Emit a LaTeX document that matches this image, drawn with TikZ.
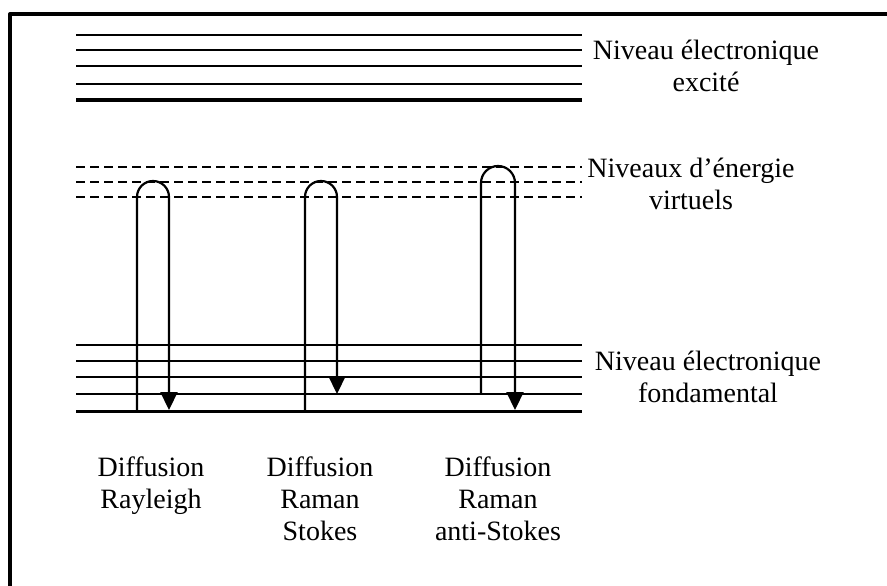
\documentclass[tikz,border=0pt]{standalone}
\usepackage{fontspec}
\setmainfont{Liberation Serif}
\usetikzlibrary{arrows.meta}

\begin{document}
\begin{tikzpicture}[x=1pt, y=-1pt, line join=round, >={Triangle[width=17pt,length=18pt]},
				font=\fontsize{28}{32}\selectfont,
				declare function={xl=76; xr=582; r=16;}]
				\useasboundingbox (0,0) rectangle (887,586);
				\draw[line width=4pt] (887,14) -- (10,14) -- (10,586);
				% niveaux
				\foreach \y in {35,50,66,84} \draw[line width=2.2pt] (xl,\y) -- (xr,\y);
				\draw[line width=4.5pt] (xl,100) -- (xr,100);
				\foreach \y in {167,182,197} \draw[line width=2.2pt, dash pattern=on 9pt off 5pt] (xl,\y) -- (xr,\y);
				\foreach \y in {345,361,377,394} \draw[line width=2.2pt] (xl,\y) -- (xr,\y);
				\draw[line width=3pt] (xl,411) -- (xr,411);
				% transitions
				\path 
				(137,411) coordinate (R0) (137,197) coordinate (R1) (169,410) coordinate (R2)
				(305,411) coordinate (S0) (305,197) coordinate (S1) (337,394) coordinate (S2)
				(481,394) coordinate (A0) (481,183) coordinate (A1) (515,410) coordinate (A2);
				\draw[->, line width=2.2pt] (R0) -- (R1) arc[start angle=180, end angle=360, radius=r] -- (R2);
				\draw[->, line width=2.2pt] (S0) -- (S1) arc[start angle=180, end angle=360, radius=r] -- (S2);
				\draw[->, line width=2.2pt] (A0) -- (A1) arc[start angle=180, end angle=360, radius=17] -- (A2);
				% textes
				\node[anchor=north, align=center, inner sep=0] (excite) at (706,40) {Niveau électronique\\excité};
				\node[anchor=north, align=center, inner sep=0] (virtuel) at (691,158) {Niveaux d’énergie\\virtuels};
				\node[anchor=north, align=center, inner sep=0] (fond) at (708,351) {Niveau électronique\\fondamental};
				\node[anchor=north, align=center, inner sep=0] (rayleigh) at (151,457) {Diffusion\\Rayleigh};
				\node[anchor=north, align=center, inner sep=0] (stokes) at (320,457) {Diffusion\\Raman\\Stokes};
				\node[anchor=north, align=center, inner sep=0] (astokes) at (498,457) {Diffusion\\Raman\\anti-Stokes};
				\end{tikzpicture}
\end{document}
